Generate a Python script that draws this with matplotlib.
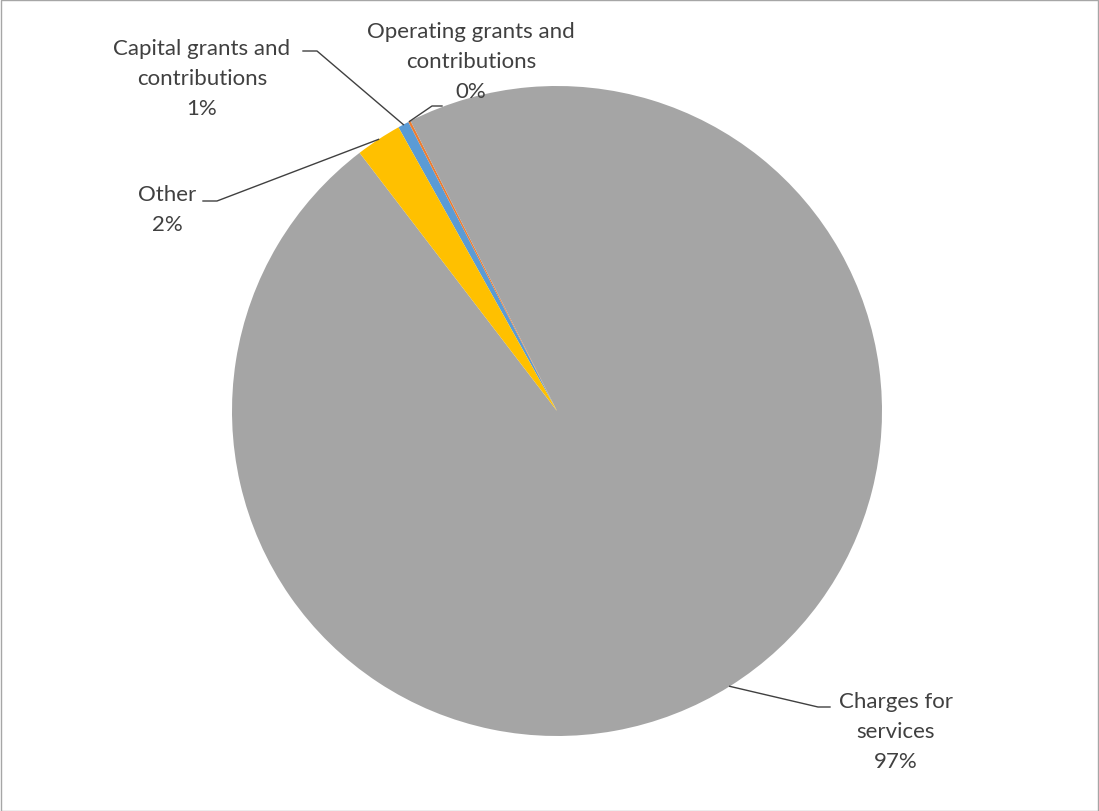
import numpy as np
import matplotlib
matplotlib.use("Agg")
import matplotlib.pyplot as plt
from matplotlib.patches import Rectangle

# data (order = Excel series order, drawn clockwise)
categories = ["Capital grants and\ncontributions", "Operating grants and\ncontributions",
              "Charges for\nservices", "Other"]
values = [0.55, 0.12, 97.05, 2.28]
colors = ["#5B9BD5", "#ED7D31", "#A5A5A5", "#FFC000"]

W, H = 1099, 812
CX, CY, R = 557, 412, 325  # pie centre / radius in pixels


def px(x, y):
    # image pixel (top-left origin) -> data coords of the pie axes
    return (x - CX) / R, (CY - y) / R


fig = plt.figure(figsize=(W / 100, H / 100), dpi=100)
fig.patch.set_facecolor("white")
fig.add_artist(Rectangle((0.5 / W, 0.5 / H), 1 - 1.5 / W, 1 - 1.5 / H, transform=fig.transFigure,
                         fill=False, edgecolor="#a6a6a6", linewidth=1))

ax = fig.add_axes([(CX - R) / W, (H - CY - R) / H, 2 * R / W, 2 * R / H])
wedges, _ = ax.pie(values, colors=colors, startangle=119.2, counterclock=False,
                   radius=1, wedgeprops=dict(linewidth=0))
ax.set_xlim(-1, 1)
ax.set_ylim(-1, 1)
ax.axis("off")

total = sum(values)
pct = [f"{round(v / total * 100 + 1e-9):.0f}%" for v in values]

# label layout: text centre, line end, elbow (pixels)
layout = [
    dict(text=(202, 79), start=(303, 52), elbow=(317, 52)),
    dict(text=(471, 62), start=(442, 107), elbow=(432, 107)),
    dict(text=(896, 732), start=(830, 708), elbow=(818, 708)),
    dict(text=(167, 210), start=(203, 202), elbow=(217, 202)),
]

txt_color = "#404040"
for w, name, p, lay in zip(wedges, categories, pct, layout):
    mid = np.deg2rad((w.theta1 + w.theta2) / 2)
    ax_, ay_ = np.cos(mid), np.sin(mid)
    sx, sy = px(*lay["start"])
    ex, ey = px(*lay["elbow"])
    ax.plot([sx, ex, ax_], [sy, ey, ay_], color="#404040", lw=1, clip_on=False)
    tx, ty = px(*lay["text"])
    ax.text(tx, ty, name + "\n" + p, ha="center", va="center", fontsize=16,
            family=["Lato", "DejaVu Sans"], color=txt_color, linespacing=1.65)

fig.savefig("out.png", dpi=100)
